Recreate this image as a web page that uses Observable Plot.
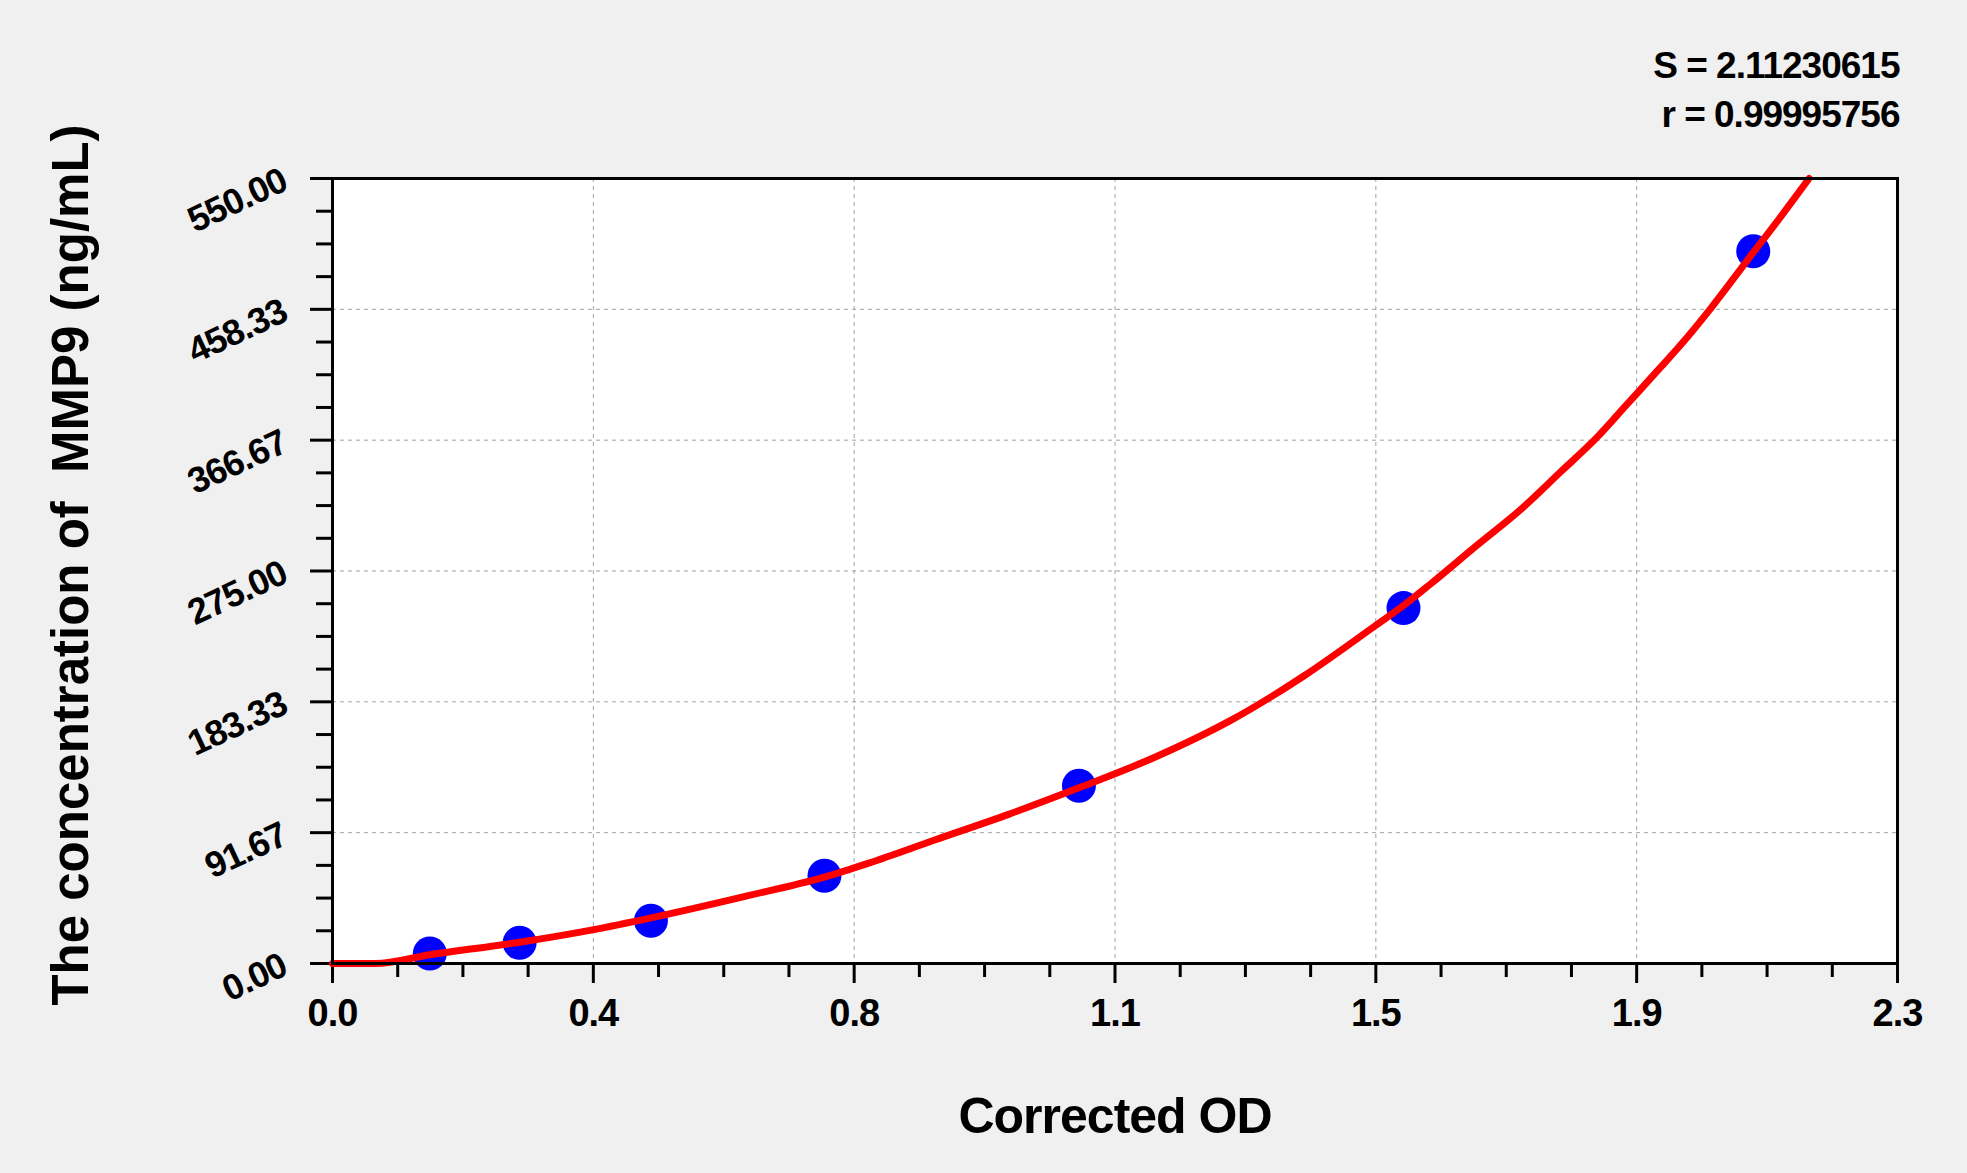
<!DOCTYPE html>
<html>
<head>
<meta charset="utf-8">
<script src="https://cdn.jsdelivr.net/npm/d3@7"></script>
<script src="https://cdn.jsdelivr.net/npm/@observablehq/plot@0.6"></script>
<style>
  html, body { margin: 0; padding: 0; background: #f0f0f0; overflow: hidden; }
  #chart svg { display: block; }
</style>
</head>
<body>
<div id="chart"></div>
<script>
// Standard points (Corrected OD, concentration ng/mL)
const pointOD   = [0.143, 0.275, 0.468, 0.723, 1.097, 1.574, 2.088];
const pointConc = [7.0, 14.5, 30.0, 61.5, 124.5, 249.0, 499.0];

// Fitted curve
const curveOD   = [0, 0.063, 0.1426, 0.275, 0.382, 0.468, 0.605, 0.7228, 0.788, 0.885, 0.9935, 1.097, 1.211, 1.32, 1.4286, 1.533, 1.574, 1.614, 1.682, 1.746, 1.805, 1.859, 1.903, 1.952, 1.991, 2.025, 2.079, 2.128, 2.170];
const curveConc = [0, 0, 6.1, 14.9, 23.6, 32.0, 46.9, 60.5, 70.3, 86.5, 104.5, 123.1, 145.0, 170.3, 201.8, 236.8, 250.8, 266.0, 293.0, 318.0, 344.5, 369.0, 392.1, 417.8, 438.8, 458.7, 492.5, 523.0, 550.0];

// Axes
const xMax = 2.3, yMax = 550;
const xTickValues = [0, 2.3/6, 2*2.3/6, 3*2.3/6, 4*2.3/6, 5*2.3/6, 2.3];
const xTickLabels = ["0.0", "0.4", "0.8", "1.1", "1.5", "1.9", "2.3"];
const yTickValues = [0, 550/6, 2*550/6, 3*550/6, 4*550/6, 5*550/6, 550];
const yTickLabels = ["0.00", "91.67", "183.33", "275.00", "366.67", "458.33", "550.00"];
const xMinorTicks = d3.range(25).map(i => i * xMax / 24).filter((_, i) => i % 4 !== 0);
const yMinorTicks = d3.range(25).map(i => i * yMax / 24).filter((_, i) => i % 4 !== 0);

const statS = "S = 2.11230615";
const statR = "r = 0.99995756";
const xLabel = "Corrected OD";
const yLabel = "The concentration of  MMP9 (ng/mL)";

const points = pointOD.map((x, i) => ({x, y: pointConc[i]}));
const curve = curveOD.map((x, i) => ({x, y: curveConc[i]}));

const font = "Liberation Sans, Arial, sans-serif";

const chart = Plot.plot({
  width: 1967,
  height: 1173,
  marginLeft: 332,
  marginRight: 70,
  marginTop: 178,
  marginBottom: 210,
  style: {background: "#f0f0f0", fontFamily: font, fontWeight: "bold", color: "black"},
  x: {domain: [0, xMax], nice: false},
  y: {domain: [0, yMax], nice: false},
  marks: [
    Plot.frame({fill: "white", stroke: null}),
    Plot.gridX(xTickValues.slice(1, -1), {stroke: "#a0a0a0", strokeOpacity: 1, strokeWidth: 1, strokeDasharray: "4,4"}),
    Plot.gridY(yTickValues.slice(1, -1), {stroke: "#a0a0a0", strokeOpacity: 1, strokeWidth: 1, strokeDasharray: "4,4"}),
    Plot.axisX(xMinorTicks, {tickSize: 14, strokeWidth: 3, tickFormat: () => "", label: null}),
    Plot.axisY(yMinorTicks, {tickSize: 16, strokeWidth: 3, tickFormat: () => "", label: null}),
    Plot.axisX(xTickValues, {
      tickSize: 20, tickPadding: 16, strokeWidth: 3,
      tickFormat: (d, i) => xTickLabels[i],
      fontSize: 38, fontWeight: "bold", fill: "black", label: null
    }),
    Plot.axisY(yTickValues, {
      tickSize: 22, tickPadding: 26, tickRotate: -25, strokeWidth: 3,
      tickFormat: (d, i) => yTickLabels[i],
      fontSize: 36, fontWeight: "bold", fill: "black", label: null
    }),
    Plot.dot(points, {x: "x", y: "y", r: 17, fill: "#0000ff", stroke: null}),
    Plot.line(curve, {x: "x", y: "y", curve: "monotone-x", stroke: "#ff0000", strokeWidth: 7, strokeLinecap: "round", strokeLinejoin: "round"}),
    Plot.frame({stroke: "black", strokeWidth: 3}),
    Plot.text([xLabel], {frameAnchor: "bottom", text: d => d, dy: 169, lineAnchor: "bottom", fontSize: 50, fontWeight: "bold", fill: "black"}),
    Plot.text([yLabel], {frameAnchor: "left", text: d => d, dx: -245, dy: -6, rotate: -90, lineAnchor: "bottom", textAnchor: "middle", fontSize: 51, fontWeight: "bold", fill: "black"}),
    Plot.text([statS], {frameAnchor: "top-right", text: d => d, dy: -101, dx: 2, lineAnchor: "bottom", textAnchor: "end", fontSize: 37, fontWeight: "bold", fill: "black"}),
    Plot.text([statR], {frameAnchor: "top-right", text: d => d, dy: -52, dx: 2, lineAnchor: "bottom", textAnchor: "end", fontSize: 37, fontWeight: "bold", fill: "black"})
  ]
});
document.getElementById("chart").appendChild(chart);
// tighten the glyph spacing of the short labels a little, as in the reference
d3.select(chart).selectAll("text").filter(function() { return this.textContent !== yLabel; }).attr("letter-spacing", "-1px");
</script>
</body>
</html>
